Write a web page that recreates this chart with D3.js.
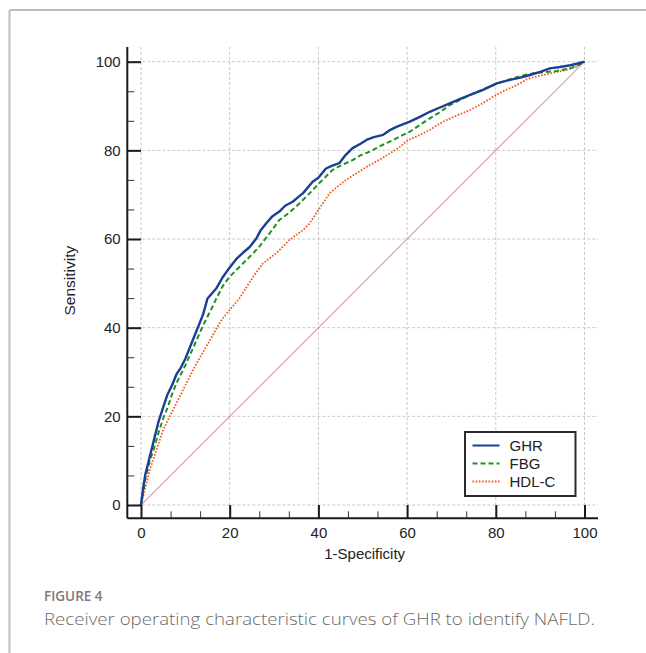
<!DOCTYPE html>
<html>
<head>
<meta charset="utf-8">
<script src="https://cdn.jsdelivr.net/npm/d3@7"></script>
<style>
  html, body { margin: 0; padding: 0; background: #fff; }
  svg { display: block; }
</style>
</head>
<body>
<div id="chart"></div>
<script>
// ROC points (1-Specificity, Sensitivity), in percent
const ghrFpr = [0, 0.5, 1, 2, 3, 4, 5, 6, 7, 8, 9, 10, 11, 12, 13, 14, 15, 17, 18.5, 20, 21.5, 23, 24.5, 26, 27, 28.2, 29.5, 31.2, 32.5, 34.2, 35.5, 36.5, 38.7, 40, 41.7, 43, 44.7, 46, 47.7, 49.5, 51.1, 52.5, 54.6, 56, 57.6, 60.6, 63, 65.1, 67, 69.6, 72, 74.2, 77, 80.2, 83.2, 85.5, 87.7, 90, 92.2, 94.5, 96.8, 98.5, 100];
const ghrTpr = [0, 4, 7, 11, 15, 19, 22, 25, 27, 29.5, 31, 33, 35.5, 38, 40.5, 43, 46.6, 48.9, 51.5, 53.6, 55.5, 56.9, 58.2, 60.1, 62, 63.5, 65, 66.2, 67.5, 68.4, 69.5, 70.3, 72.9, 73.8, 75.9, 76.5, 77.1, 78.8, 80.5, 81.5, 82.5, 83, 83.5, 84.5, 85.3, 86.5, 87.6, 88.7, 89.5, 90.6, 91.6, 92.5, 93.6, 95.1, 95.9, 96.4, 97, 97.7, 98.5, 98.8, 99.2, 99.6, 100];

const fbgFpr = [0, 1, 2, 3, 4, 5, 6, 7, 8, 9, 10, 12, 14, 16, 17, 18.5, 20, 21.5, 23, 25, 26.7, 29, 31.2, 33.5, 35.7, 38, 40.2, 43.2, 45.5, 47.7, 49.5, 51.6, 54, 56.8, 58.5, 60.6, 63, 65.1, 67.5, 69.6, 72, 74.2, 76.5, 78.7, 81.5, 84.7, 87, 89.2, 91.5, 93.7, 96.8, 98.5, 100];
const fbgTpr = [0, 6, 10, 13, 16.5, 19.5, 22, 25, 27.5, 29.5, 31.5, 36, 40.5, 44.5, 46.6, 49.5, 51.5, 53, 54.5, 56.5, 58.3, 61.3, 64.3, 66, 68, 70.3, 72.6, 75.6, 76.8, 77.8, 78.9, 79.7, 81, 82.3, 83.2, 84.2, 85.8, 87.2, 88.7, 90.2, 91.4, 92.5, 93.5, 94.4, 95.5, 96.5, 97.1, 97.5, 97.7, 97.9, 98.5, 99.2, 100];

const hdlFpr = [0, 1, 2, 3, 4, 5, 6, 7, 8, 10, 12, 14, 16, 18, 20, 22.2, 24, 26, 27.5, 30.5, 33.5, 36.5, 38, 39.5, 41, 42.5, 44.5, 46.2, 48.5, 51.6, 54, 56.1, 58, 60.2, 62.5, 65.1, 67, 68.8, 71.5, 74.2, 77, 79.4, 82, 84.7, 86.9, 88.5, 90.7, 93, 95.3, 98.3, 100];
const hdlTpr = [0, 4, 8, 11, 14, 17, 19, 21, 23, 27, 31, 34.5, 38, 41.5, 44, 46.6, 49.5, 52.5, 54.5, 56.8, 59.8, 62, 63.5, 65.8, 68, 70.3, 72, 73.3, 74.8, 76.7, 78, 79.3, 80.5, 82.3, 83.3, 84.6, 85.8, 86.8, 88, 89.1, 90.6, 92.1, 93.5, 94.7, 96, 96.5, 97, 97.5, 98, 98.9, 100];

const seriesNames = ["GHR", "FBG", "HDL-C"];
const tickValues = [0, 20, 40, 60, 80, 100];

const W = 646, H = 653;
const FONT = "'Liberation Sans', Arial, Helvetica, sans-serif";

const svg = d3.select("#chart")
    .append("svg")
    .attr("width", W)
    .attr("height", H)
    .style("font-family", FONT);

// Panel frame (top + left rule of the figure box)
svg.append("line").attr("x1", 9.5).attr("x2", W).attr("y1", 10).attr("y2", 10)
    .attr("stroke", "#bdbdbd").attr("stroke-width", 2);
svg.append("line").attr("x1", 9.5).attr("x2", 9.5).attr("y1", 10).attr("y2", H)
    .attr("stroke", "#bdbdbd").attr("stroke-width", 2);

// Scales
const x = d3.scaleLinear().domain([0, 100]).range([141, 584.5]);
const y = d3.scaleLinear().domain([0, 100]).range([505, 61.7]);

// Axis lines sit a little outside the data area
const axisX = 127.3, axisY = 518.3;
const xMin = x.invert(axisX), xMax = x.invert(598);
const yMin = y.invert(axisY), yMax = y.invert(47);

// Grid
const grid = svg.append("g")
    .attr("stroke", "#c8c8c8")
    .attr("stroke-width", 1)
    .attr("stroke-dasharray", "3,2");
grid.selectAll(".gv").data(tickValues).enter().append("line")
    .attr("x1", d => x(d)).attr("x2", d => x(d))
    .attr("y1", y(yMax)).attr("y2", y(yMin));
grid.selectAll(".gh").data(tickValues).enter().append("line")
    .attr("y1", d => y(d)).attr("y2", d => y(d))
    .attr("x1", x(xMin)).attr("x2", x(xMax));

// Reference diagonal
svg.append("line")
    .attr("x1", x(0)).attr("y1", y(0))
    .attr("x2", x(100)).attr("y2", y(100))
    .attr("stroke", "#d98c8c")
    .attr("stroke-opacity", 0.8)
    .attr("stroke-width", 1.2);

// Curves
const styles = {
    "GHR":   { color: "#1c3f94", width: 2.4, dash: null },
    "FBG":   { color: "#1e9020", width: 2, dash: "5,3" },
    "HDL-C": { color: "#f5561e", width: 1.8, dash: "1.6,1.6" }
};
const curves = [
    { name: "HDL-C", fpr: hdlFpr, tpr: hdlTpr },
    { name: "FBG", fpr: fbgFpr, tpr: fbgTpr },
    { name: "GHR", fpr: ghrFpr, tpr: ghrTpr }
];
const line = d3.line().x(d => x(d[0])).y(d => y(d[1]));

curves.forEach(c => {
    const s = styles[c.name];
    svg.append("path")
        .datum(c.fpr.map((f, i) => [f, c.tpr[i]]))
        .attr("d", line)
        .attr("fill", "none")
        .attr("stroke", s.color)
        .attr("stroke-width", s.width)
        .attr("stroke-linejoin", "round")
        .attr("stroke-dasharray", s.dash);
});

// Axes
const minorTicks = d3.range(0, 100.01, 20 / 3).filter(v => Math.abs(v / 20 - Math.round(v / 20)) > 0.01);

function styleAxis(g, major) {
    g.attr("font-family", FONT).attr("font-size", 15);
    g.select(".domain").remove();
    g.selectAll(".tick line").attr("stroke", major ? "#1a1a1a" : "#333").attr("stroke-width", major ? 2 : 1);
    g.selectAll(".tick text").attr("fill", "#222");
}

// Y axis
svg.append("line")
    .attr("x1", axisX).attr("x2", axisX)
    .attr("y1", y(yMax)).attr("y2", y(yMin))
    .attr("stroke", "#1a1a1a").attr("stroke-width", 2);
svg.append("g")
    .attr("transform", `translate(${axisX},0)`)
    .call(d3.axisLeft(y).tickValues(tickValues).tickSize(-(x(0) - axisX)).tickPadding(6.6).tickFormat(d3.format("d")))
    .call(g => styleAxis(g, true));
svg.append("g")
    .attr("transform", `translate(${axisX},0)`)
    .call(d3.axisLeft(y).tickValues(minorTicks).tickSize(-7).tickFormat(""))
    .call(g => styleAxis(g, false));

// X axis
svg.append("line")
    .attr("x1", x(xMin)).attr("x2", x(xMax))
    .attr("y1", axisY).attr("y2", axisY)
    .attr("stroke", "#1a1a1a").attr("stroke-width", 2);
svg.append("g")
    .attr("transform", `translate(0,${axisY})`)
    .call(d3.axisBottom(x).tickValues(tickValues).tickSize(-(axisY - y(0))).tickPadding(9).tickFormat(d3.format("d")))
    .call(g => styleAxis(g, true));
svg.append("g")
    .attr("transform", `translate(0,${axisY})`)
    .call(d3.axisBottom(x).tickValues(minorTicks).tickSize(-7).tickFormat(""))
    .call(g => styleAxis(g, false));

// Axis titles
svg.append("text")
    .attr("x", (axisX + 598) / 2 + 2)
    .attr("y", 558.5)
    .attr("text-anchor", "middle")
    .style("font-size", "15px")
    .attr("fill", "#222")
    .text("1-Specificity");
svg.append("text")
    .attr("transform", `translate(74.5,${(47 + axisY) / 2 - 2}) rotate(-90)`)
    .attr("text-anchor", "middle")
    .style("font-size", "15.5px")
    .attr("fill", "#222")
    .text("Sensitivity");

// Legend
const legend = svg.append("g").attr("transform", "translate(465,432)");
legend.append("rect")
    .attr("width", 110.5).attr("height", 64)
    .attr("fill", "#fff")
    .attr("stroke", "#2a2a2a")
    .attr("stroke-width", 2);
seriesNames.forEach((name, i) => {
    const s = styles[name];
    const row = legend.append("g").attr("transform", `translate(0,${13.5 + i * 18})`);
    row.append("line")
        .attr("x1", 7.5).attr("x2", 34.5)
        .attr("stroke", s.color)
        .attr("stroke-width", name === "GHR" ? 2 : 1.8)
        .attr("stroke-dasharray", s.dash);
    row.append("text")
        .attr("x", 44.5)
        .attr("y", 5.3)
        .style("font-size", "15px")
        .attr("fill", "#222")
        .text(name);
});

// Caption
svg.append("text")
    .attr("x", 44)
    .attr("y", 600.7)
    .style("font-family", "'Open Sans', sans-serif")
    .style("font-size", "13.5px")
    .style("font-weight", 600)
    .attr("fill", "#7a7a7a")
    .text("FIGURE 4");
svg.append("text")
    .attr("x", 44)
    .attr("y", 625)
    .style("font-family", "'Open Sans', sans-serif")
    .style("font-size", "17px")
    .style("font-weight", 300)
    .attr("fill", "#6a6a6a")
    .attr("textLength", 551)
    .attr("lengthAdjust", "spacingAndGlyphs")
    .text("Receiver operating characteristic curves of GHR to identify NAFLD.");
</script>
</body>
</html>
